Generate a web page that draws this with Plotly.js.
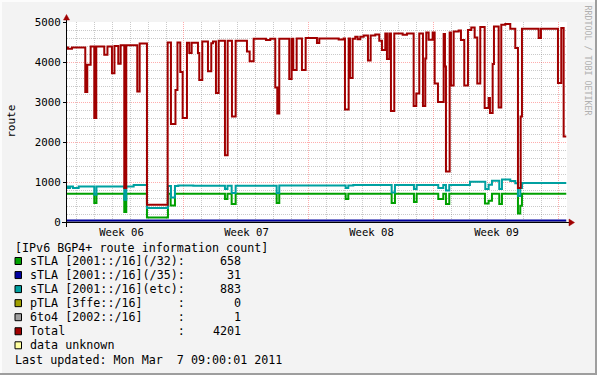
<!DOCTYPE html>
<html><head><meta charset="utf-8">
<script src="https://cdn.plot.ly/plotly-3.0.1.min.js"></script>
<style>html,body{margin:0;padding:0;background:#f3f3f3;} #chart{width:597px;height:375px;}</style>
</head><body><div id="chart"></div>
<script>
// time values: days since 2011-02-07 00:00 ; value pairs [day, routes]
const totalData = [[0.448,4365],[0.504,4330],[0.728,4365],[1.473,3250],[1.585,3930],[1.775,4385],[1.977,2600],[2.089,4385],[2.537,4180],[2.716,4385],[2.968,3720],[3.108,4400],[3.321,3955],[3.455,4417],[3.657,850],[3.769,4420],[4.385,3265],[4.519,4465],[4.928,432],[6.087,4490],[6.272,2450],[6.524,3300],[6.636,4490],[6.793,3750],[6.927,2600],[7.168,4482],[7.297,4225],[7.431,4482],[7.784,4225],[7.857,3550],[8.025,4515],[8.344,3767],[8.529,4470],[8.624,4515],[8.792,3225],[8.943,4530],[9.296,1670],[9.447,4530],[9.688,2640],[9.895,4530],[10.528,4260],[10.679,4020],[10.903,4582],[11.592,4550],[11.833,4582],[12.113,3365],[12.225,2715],[12.337,4582],[12.897,3575],[13.031,4582],[13.121,3800],[13.311,4590],[13.608,3800],[13.815,4600],[14.448,4475],[14.577,4590],[15.663,4560],[15.943,4590],[16.016,2815],[16.223,4590],[16.296,3600],[16.447,4582],[16.593,4630],[16.727,4570],[16.873,4630],[17.063,4665],[17.304,4040],[17.455,4665],[17.713,4690],[17.937,4530],[18.088,4300],[18.273,4715],[18.368,4075],[18.497,4715],[18.592,2775],[18.777,4715],[19.247,4680],[19.488,4715],[19.863,2900],[20.009,3215],[20.177,4715],[20.384,2900],[20.513,4090],[20.569,4740],[20.703,4557],[20.927,4740],[21.039,3465],[21.224,3000],[21.543,4700],[21.616,3890],[21.672,1265],[21.879,4740],[21.952,3415],[22.103,4765],[22.383,4790],[22.512,4550],[22.697,3415],[22.904,4800],[23.089,4865],[23.279,4610],[23.425,3465],[23.593,4875],[23.839,2850],[24.063,3100],[24.136,2725],[24.287,3950],[24.36,4887],[24.623,2865],[24.769,4933],[24.993,4950],[25.273,4833],[25.553,4350],[25.704,850],[25.855,2640],[25.928,4833],[26.863,4600],[26.992,4833],[27.944,3475],[28.129,4850],[28.263,2140],[28.409,2140]];
const etcData = [[0.448,885],[0.504,850],[0.616,885],[0.784,850],[1.103,885],[1.977,680],[2.1,885],[3.657,557],[3.769,885],[4.183,925],[4.928,350],[6.104,900],[6.272,610],[6.496,900],[6.681,915],[7.521,905],[9.296,825],[9.436,905],[9.671,725],[9.895,905],[12.191,725],[12.337,910],[16.055,850],[16.201,915],[16.481,922],[18.631,740],[18.816,922],[19.88,825],[20.031,922],[21.241,850],[21.521,922],[21.672,790],[21.857,922],[23.016,1007],[23.873,825],[24.063,932],[24.248,1030],[24.657,825],[24.808,1060],[25.273,1025],[25.553,970],[25.704,650],[25.833,850],[25.928,978],[28.409,978]];
const s32Data = [[0.448,707],[1.977,475],[2.1,707],[3.657,250],[3.769,707],[4.928,110],[6.104,707],[6.255,410],[6.496,707],[9.296,575],[9.436,707],[9.671,450],[9.895,707],[12.191,475],[12.337,707],[16.055,575],[16.201,707],[18.631,475],[18.816,707],[19.88,500],[20.031,707],[21.241,575],[21.521,707],[21.672,450],[21.857,707],[23.856,460],[24.063,530],[24.248,707],[24.657,450],[24.808,707],[25.704,210],[25.833,407],[25.928,707],[28.409,707]];
const s35Data = [[0.448,40],[28.409,40]];
const pTLAData = [[0.448,0],[28.409,0]];
const sixto4Data = [[0.448,1],[28.409,1]];

const weekCenters = [3.5, 10.5, 17.5, 24.5];
const weekLabels = ['Week 06','Week 07','Week 08','Week 09'];

const legendTitle = '[IPv6 BGP4+ route information count]';
const legendNames = ['sTLA [2001::/16](/32)','sTLA [2001::/16](/35)','sTLA [2001::/16](etc)','pTLA [3ffe::/16]','6to4 [2002::/16]','Total'];
const legendValues = [658, 31, 883, 0, 1, 4201];
const legendColors = ['#00a000','#0000a0','#00a0a0','#a0a000','#a0a0a0','#a00000'];
const unknownLabel = 'data unknown';
const unknownColor = '#ffffa0';
const lastUpdated = 'Last updated: Mon Mar  7 09:00:01 2011';

const DAY = 86400000;
const BASE = Date.UTC(2011, 1, 7);
const toDate = d => new Date(BASE + Math.round(d * DAY)).toISOString().slice(0, 19).replace('T', ' ');
const nb = s => s.replace(/ /g, '\u00a0');

function lineTrace(data, color, width) {
  return {x: data.map(p => toDate(p[0])), y: data.map(p => p[1]), type: 'scatter', mode: 'lines',
    line: {shape: 'hv', color: color, width: width || 2}, hoverinfo: 'skip'};
}
const traces = [
  lineTrace(pTLAData, legendColors[3], 1),
  lineTrace(sixto4Data, legendColors[4], 1),
  lineTrace(s32Data, legendColors[0]),
  lineTrace(s35Data, legendColors[1]),
  lineTrace(etcData, legendColors[2]),
  lineTrace(totalData, legendColors[5]),
  // carrier for the week-label axis (no visible marks)
  {x: weekCenters.map(toDate), y: weekCenters.map(() => null), xaxis: 'x2', yaxis: 'y', type: 'scatter', mode: 'lines',
   line: {width: 0}, hoverinfo: 'skip'}
];

const L = 67, R = 567, T = 22, B = 222;
const P = px => (px - L) / (R - L);
const Q = py => (B - py) / (B - T);
const FONT = 'DejaVu Sans Mono';
const MONO = {family: FONT, size: 11.7, color: '#000'};

const annotations = [];
const shapes = [];
function txt(x, y, s, extra) {
  annotations.push(Object.assign({xref: 'paper', yref: 'paper', x: P(x), y: Q(y), text: nb(s), showarrow: false,
    xanchor: 'left', yanchor: 'middle', font: MONO, borderpad: 0}, extra || {}));
}
function box(y, color) {
  shapes.push({type: 'rect', xref: 'paper', yref: 'paper', x0: P(15), x1: P(21.5), y0: Q(y - 3.5), y1: Q(y + 3.5),
    fillcolor: color, line: {color: '#000', width: 1}, layer: 'above'});
}
const rowY0 = 261, rowDy = 14.05;
txt(13.5, 247.5, legendTitle);
legendNames.forEach((n, i) => {
  const y = rowY0 + i * rowDy;
  box(y, legendColors[i]);
  txt(28.5, y, n.padEnd(21) + ':' + String(legendValues[i]).padStart(8));
});
box(rowY0 + 6 * rowDy, unknownColor);
txt(28.5, rowY0 + 6 * rowDy, unknownLabel);
txt(13.5, 359.6, lastUpdated);

annotations.push({xref: 'paper', yref: 'paper', x: P(10.8), y: Q(121), text: 'route', textangle: -90, showarrow: false,
  xanchor: 'center', yanchor: 'middle', font: {family: FONT, size: 11, color: '#000'}});
annotations.push({xref: 'paper', yref: 'paper', x: P(587.5), y: Q(60), text: nb('RRDTOOL / TOBI OETIKER'), textangle: 90, showarrow: false,
  xanchor: 'center', yanchor: 'middle', font: {family: FONT, size: 8.3, color: '#b0b0b0'}});

// axis lines & arrows
shapes.push({type: 'line', xref: 'paper', yref: 'paper', x0: P(62), x1: P(570), y0: Q(222.5), y1: Q(222.5), line: {color: '#000', width: 1}, layer: 'above'});
shapes.push({type: 'line', xref: 'paper', yref: 'paper', x0: P(66.5), x1: P(66.5), y0: Q(227), y1: Q(19), line: {color: '#000', width: 1}, layer: 'above'});
shapes.push({type: 'path', xref: 'paper', yref: 'paper', path: `M${P(569)},${Q(219)} L${P(574.5)},${Q(222.5)} L${P(569)},${Q(226)} Z`, fillcolor: '#a00000', line: {color: '#a00000', width: 0.5}, layer: 'above'});
shapes.push({type: 'path', xref: 'paper', yref: 'paper', path: `M${P(63.5)},${Q(20)} L${P(66.5)},${Q(14.5)} L${P(69.5)},${Q(20)} Z`, fillcolor: '#a00000', line: {color: '#a00000', width: 0.5}, layer: 'above'});
// frame
shapes.push({type: 'rect', xref: 'paper', yref: 'paper', x0: P(0), x1: P(597), y0: Q(0), y1: Q(2), fillcolor: '#fcfcfc', line: {width: 0}, layer: 'above'});
shapes.push({type: 'rect', xref: 'paper', yref: 'paper', x0: P(0), x1: P(2), y0: Q(0), y1: Q(375), fillcolor: '#fcfcfc', line: {width: 0}, layer: 'above'});
shapes.push({type: 'rect', xref: 'paper', yref: 'paper', x0: P(0), x1: P(597), y0: Q(373), y1: Q(375), fillcolor: '#9e9e9e', line: {width: 0}, layer: 'above'});
shapes.push({type: 'rect', xref: 'paper', yref: 'paper', x0: P(595), x1: P(597), y0: Q(0), y1: Q(375), fillcolor: '#9e9e9e', line: {width: 0}, layer: 'above'});

const minorGrid = 'rgba(128,128,128,0.42)';
const majorGrid = 'rgba(255,0,0,0.32)';
const xr = [toDate(0.45), toDate(28.45)];
const layout = {
  width: 597, height: 375,
  margin: {l: L, r: 597 - R, t: T, b: 375 - B, pad: 0},
  paper_bgcolor: '#f3f3f3', plot_bgcolor: '#ffffff',
  showlegend: false,
  font: {family: FONT, size: 11, color: '#000'},
  xaxis: {type: 'date', range: xr, showticklabels: false, ticks: '', tick0: '2011-02-07', dtick: 7 * DAY,
    showgrid: true, gridcolor: majorGrid, griddash: '1px,1px', gridwidth: 1, zeroline: false, showline: false,
    minor: {tick0: '2011-02-07', dtick: DAY, showgrid: true, gridcolor: minorGrid, griddash: '1px,1px', gridwidth: 1, ticks: ''}},
  xaxis2: {type: 'date', range: xr, overlaying: 'x', anchor: 'y', side: 'bottom', tickmode: 'array',
    tickvals: weekCenters.map(toDate), ticktext: weekLabels, showgrid: false, zeroline: false, showline: false,
    ticks: '', showticklabels: true, ticklabelstandoff: 2, tickfont: {family: FONT, size: 10.6, color: '#000'}},
  yaxis: {range: [0, 5000], tickmode: 'linear', tick0: 0, dtick: 1000, showgrid: true, gridcolor: majorGrid, griddash: '1px,1px',
    zeroline: false, showline: false, ticks: 'outside', ticklen: 3, tickcolor: '#000', tickwidth: 1,
    tickfont: {family: FONT, size: 10.8, color: '#000'},
    minor: {dtick: 200, showgrid: true, gridcolor: minorGrid, griddash: '1px,1px', gridwidth: 1, ticks: ''}},
  annotations: annotations,
  shapes: shapes
};
Plotly.newPlot('chart', traces, layout, {staticPlot: true, displayModeBar: false});
</script></body></html>
